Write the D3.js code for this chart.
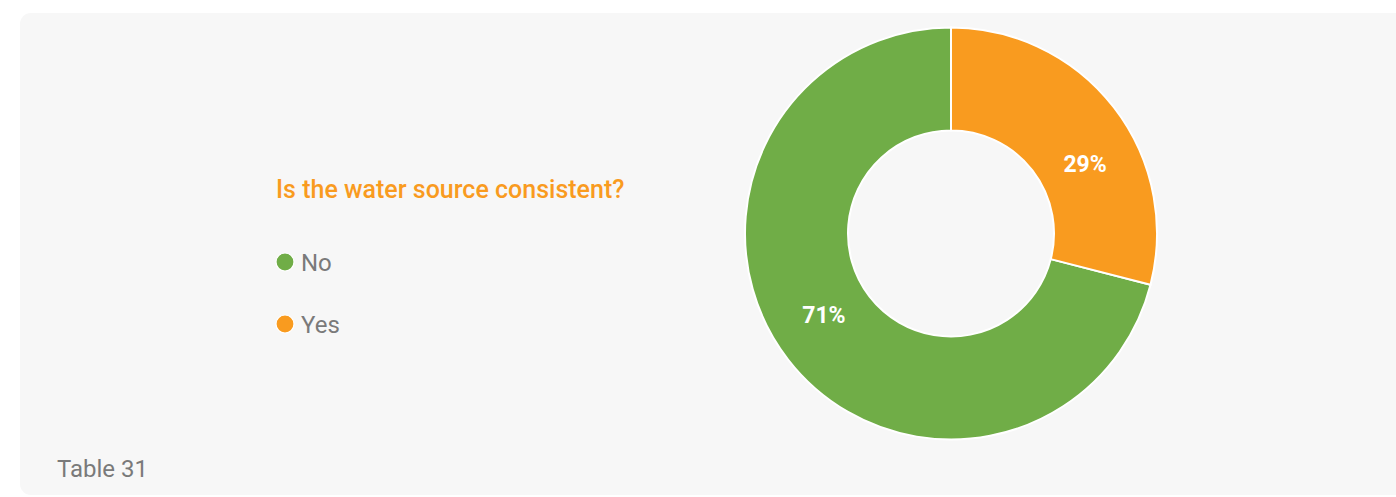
<!DOCTYPE html>
<html>
<head>
<meta charset="utf-8">
<script src="https://cdn.jsdelivr.net/npm/d3@7"></script>
<style>
  html, body { margin: 0; padding: 0; background: #ffffff; }
  svg { display: block; }
</style>
</head>
<body>
<svg id="chart" width="1396" height="497"></svg>
<script>
// Survey answers and their shares (percent)
const categories = ["No", "Yes"];
const values = [71, 29];
const colors = ["#70ad47", "#f99b1f"];
const title = "Is the water source consistent?";
const caption = "Table 31";
// where along each slice its percentage label sits (0 = slice start, 1 = slice end)
const labelAlong = [0.52, 0.60];

const svg = d3.select("#chart");
const W = 1396, H = 497;
const font = "Roboto, 'Noto Sans', sans-serif";

// card background
svg.append("rect")
  .attr("x", 20).attr("y", 13)
  .attr("width", W + 40).attr("height", 482)
  .attr("rx", 11).attr("ry", 11)
  .attr("fill", "#f7f7f7");

// title
svg.append("text")
  .attr("x", 276).attr("y", 198)
  .attr("font-family", font)
  .attr("font-weight", 500)
  .attr("font-size", 25)
  .attr("fill", "#f99b1f")
  .text(title);

// legend
const legend = svg.append("g").attr("transform", "translate(285, 262)");
const item = legend.selectAll("g.item")
  .data(categories)
  .enter().append("g")
  .attr("class", "item")
  .attr("transform", (d, i) => `translate(0, ${i * 62})`);
item.append("circle")
  .attr("r", 9)
  .attr("fill", (d, i) => colors[i])
  .attr("stroke", "#ffffff")
  .attr("stroke-width", 1.2);
item.append("text")
  .attr("x", 16).attr("y", 0)
  .attr("dy", "0.36em")
  .attr("font-family", font)
  .attr("font-size", 24)
  .attr("fill", "#7a7a7a")
  .text(d => d);

// caption
svg.append("text")
  .attr("x", 57).attr("y", 477)
  .attr("font-family", font)
  .attr("font-size", 24)
  .attr("fill", "#7a7a7a")
  .text(caption);

// donut
const cx = 951, cy = 233.5, R = 206, r = 103;
const total = d3.sum(values);
const startOffset = 2 * Math.PI * values[1] / total;
const pie = d3.pie().sort(null)
  .startAngle(startOffset)
  .endAngle(startOffset + 2 * Math.PI)
  .value(d => d);
const arc = d3.arc().innerRadius(r).outerRadius(R);
const arcs = pie(values);

const g = svg.append("g").attr("transform", `translate(${cx},${cy})`);
g.selectAll("path")
  .data(arcs)
  .enter().append("path")
  .attr("d", arc)
  .attr("fill", (d, i) => colors[i])
  .attr("stroke", "#ffffff")
  .attr("stroke-width", 2);

const labelR = 151;
g.selectAll("text.pct")
  .data(arcs)
  .enter().append("text")
  .attr("class", "pct")
  .attr("transform", (d, i) => {
    const a = d.startAngle + labelAlong[i] * (d.endAngle - d.startAngle);
    return `translate(${labelR * Math.sin(a)},${-labelR * Math.cos(a)})`;
  })
  .attr("text-anchor", "middle")
  .attr("dy", "0.36em")
  .attr("font-family", font)
  .attr("font-weight", 700)
  .attr("font-size", 23)
  .attr("fill", "#ffffff")
  .text(d => Math.round(d.value / total * 100) + "%");
</script>
</body>
</html>
